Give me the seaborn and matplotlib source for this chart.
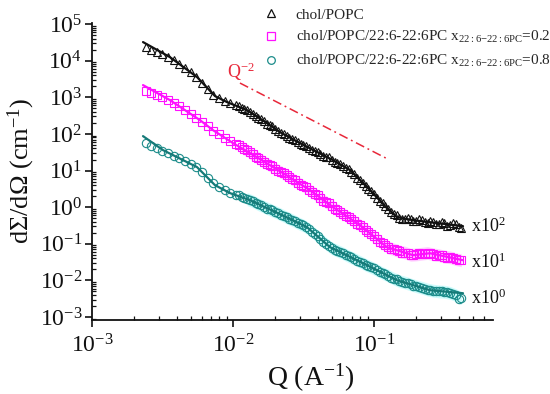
import matplotlib
matplotlib.use("Agg")
import numpy as np
import pandas as pd
import seaborn as sns
import matplotlib.pyplot as plt
from matplotlib.lines import Line2D
from matplotlib.ticker import LogLocator, LogFormatterMathtext, NullFormatter

# ---------------- data ----------------
Q_data = [0.00240, 0.00263, 0.00288, 0.00316, 0.00347, 0.00380, 0.00417, 0.00457, 0.00501, 0.00550,
          0.00603, 0.00661, 0.00724, 0.00794, 0.00871, 0.00955, 0.0105, 0.0115, 0.0126, 0.0138,
          0.0151, 0.0166, 0.0182, 0.0200, 0.0219, 0.0240, 0.0263, 0.0288, 0.0316, 0.0347,
          0.0380, 0.0417, 0.0457, 0.0501, 0.0550, 0.0603, 0.0661, 0.0724, 0.0794, 0.0871,
          0.0955, 0.105, 0.115, 0.126, 0.138, 0.151, 0.166, 0.182, 0.200, 0.219,
          0.240, 0.263, 0.288, 0.316, 0.347, 0.380, 0.417]

I_popc = [2.29e4, 2.0e4, 1.78e4, 1.51e4, 1.29e4, 1.05e4, 8.1e3, 6.3e3, 4.8e3, 3.6e3,
          2.5e3, 1.7e3, 1.17e3, 933, 794, 692, 603, 513, 447, 355,
          275, 224, 174, 138, 107, 89, 72, 60, 50, 42,
          35, 29, 24, 20, 16.2, 13.2, 10.7, 7.8, 5.5, 3.8,
          2.7, 1.82, 1.26, 0.87, 0.65, 0.50, 0.48, 0.47, 0.42, 0.44,
          0.38, 0.40, 0.355, 0.363, 0.316, 0.339, 0.263]

I_x02 = [1.51e3, 1.32e3, 1.15e3, 1.0e3, 851, 708, 575, 447, 355, 275,
         214, 162, 120, 98, 79, 65, 52, 44, 35.5, 27.5,
         21.9, 17.4, 14.1, 11.2, 9.1, 7.4, 5.9, 4.7, 3.8, 3.0,
         2.34, 1.78, 1.38, 1.07, 0.83, 0.66, 0.525, 0.41, 0.324, 0.245,
         0.182, 0.135, 0.102, 0.0794, 0.0708, 0.0617, 0.0575, 0.0501, 0.0513, 0.0537,
         0.0562, 0.0513, 0.0490, 0.0447, 0.0427, 0.0380, 0.0355]

I_x08 = [55, 47.9, 40.7, 33.9, 29.5, 25.1, 21.4, 18.2, 15.1, 12.6,
         9.1, 6.3, 4.47, 3.55, 2.95, 2.45, 2.14, 1.91, 1.66, 1.45,
         1.20, 1.02, 0.87, 0.74, 0.63, 0.525, 0.447, 0.372, 0.316, 0.251,
         0.186, 0.138, 0.100, 0.0759, 0.0646, 0.0550, 0.0457, 0.0389, 0.0324, 0.0269,
         0.0229, 0.0191, 0.0158, 0.0135, 0.0112, 0.00955, 0.00871, 0.00776, 0.00692, 0.00631,
         0.00562, 0.00525, 0.00501, 0.00490, 0.00457, 0.00398, 0.00331]

# second (overlapping) set of high-Q points
Q_data2 = [0.01096, 0.01202, 0.01318, 0.01445, 0.01585, 0.01738, 0.01905, 0.02089, 0.02291, 0.02512,
           0.02754, 0.03020, 0.03311, 0.03631, 0.03981, 0.04365, 0.04786, 0.05248, 0.05754, 0.06310,
           0.06918, 0.07586, 0.08318, 0.09120, 0.1000, 0.1096, 0.1202, 0.1318, 0.1445, 0.1585,
           0.1738, 0.1905, 0.2089, 0.2291, 0.2512, 0.2754, 0.3020, 0.3311, 0.3631, 0.3981]

I2_popc = [575, 468, 407, 302, 257, 191, 162, 117, 102, 77.6,
           69.2, 52.5, 46.8, 36.3, 33.1, 25.1, 22.9, 17.4, 15.1, 11.5,
           9.33, 6.31, 4.68, 3.09, 2.29, 1.48, 1.10, 0.724, 0.603, 0.468,
           0.513, 0.427, 0.468, 0.389, 0.427, 0.347, 0.389, 0.302, 0.363, 0.282]

I2_x02 = [49.0, 38.0, 32.4, 24.0, 20.0, 15.1, 12.9, 9.77, 8.51, 6.46,
          5.37, 4.07, 3.47, 2.57, 2.09, 1.51, 1.26, 0.912, 0.759, 0.575,
          0.479, 0.355, 0.288, 0.204, 0.162, 0.115, 0.0933, 0.0724, 0.0676, 0.0575,
          0.0562, 0.0490, 0.0550, 0.0525, 0.0562, 0.0479, 0.0490, 0.0417, 0.0417, 0.0355]

I2_x08 = [2.09, 1.74, 1.58, 1.29, 1.12, 0.912, 0.813, 0.676, 0.589, 0.479,
          0.417, 0.339, 0.288, 0.214, 0.162, 0.115, 0.0891, 0.0692, 0.0603, 0.0490,
          0.0427, 0.0347, 0.0302, 0.0245, 0.0214, 0.0170, 0.0148, 0.0120, 0.0107, 0.00891,
          0.00832, 0.00724, 0.00676, 0.00589, 0.00550, 0.00501, 0.00513, 0.00468, 0.00437, 0.00302]

Q_fit_popc = [0.00230, 0.00357, 0.00556, 0.00745, 0.00906, 0.01256, 0.01742, 0.02153,
              0.02985, 0.0512, 0.0676, 0.0938, 0.1236, 0.1455, 0.189, 0.428]
I_fit_popc = [3.22e4, 1.25e4, 3.56e3, 1.08e3, 740, 447, 197, 112,
              56.1, 19.2, 10.3, 2.91, 0.94, 0.533, 0.442, 0.303]

Q_fit_x02 = [0.00230, 0.00357, 0.00583, 0.00721, 0.0100, 0.01321, 0.02265, 0.03516,
             0.0512, 0.0796, 0.1236, 0.189, 0.2495, 0.428]
I_fit_x02 = [2153, 838, 238, 127, 56.1, 29.9, 8.49, 2.91,
             1.0, 0.322, 0.0807, 0.0489, 0.0553, 0.0356]

Q_fit_x08 = [0.00230, 0.00319, 0.00556, 0.00745, 0.00953, 0.01321, 0.02153, 0.0335,
             0.0488, 0.0836, 0.1455, 0.2495, 0.428]
I_fit_x08 = [87.1, 36.1, 12.4, 3.99, 2.42, 1.55, 0.644, 0.284,
             0.0807, 0.0295, 0.0101, 0.0054, 0.00447]

Q_ref = [0.0112, 0.124]
I_ref = [2450, 21]

labels = ["chol/POPC",
          r"chol/POPC/22:6-22:6PC x$_{\mathregular{22{:}6{-}22{:}6PC}}$=0.2",
          r"chol/POPC/22:6-22:6PC x$_{\mathregular{22{:}6{-}22{:}6PC}}$=0.8"]
scale_labels = [r"x10$^{2}$", r"x10$^{1}$", r"x10$^{0}$"]
scale_y = [0.30, 0.0316, 0.0032]

# ---------------- style ----------------
sns.set_theme(style="ticks")
plt.rcParams["font.family"] = ["Liberation Serif", "DejaVu Serif"]
plt.rcParams["mathtext.fontset"] = "custom"
plt.rcParams["mathtext.rm"] = "Liberation Serif"
plt.rcParams["mathtext.it"] = "Liberation Serif:italic"
plt.rcParams["mathtext.bf"] = "Liberation Serif:bold"

c_black = "#111111"
c_mag = "#ff10ff"
c_teal = "#1b8c8a"
c_teal_line = "#167a78"

fig = plt.figure(figsize=(5.5, 3.94), dpi=100)
ax = fig.add_axes([0.1673, 0.1878, 0.729, 0.755])
ax.set_xscale("log")
ax.set_yscale("log")

df_pc = pd.DataFrame({"Q": Q_data + Q_data2, "I": I_popc + I2_popc})
df_02 = pd.DataFrame({"Q": Q_data + Q_data2, "I": I_x02 + I2_x02})
df_08 = pd.DataFrame({"Q": Q_data + Q_data2, "I": I_x08 + I2_x08})

# error halos (light bands around the data)
h02 = pd.DataFrame({"Q": Q_data, "I": I_x02})
h08 = pd.DataFrame({"Q": Q_data, "I": I_x08})
m02 = h02["Q"] >= 0.011
ax.fill_between(h02["Q"][m02], h02["I"][m02] / 1.5, h02["I"][m02] * 1.5,
                color="#ffd2ff", lw=0, zorder=1)
m08 = h08["Q"] >= 0.012
ax.fill_between(h08["Q"][m08], h08["I"][m08] / 1.5, h08["I"][m08] * 1.5,
                color="#cdfcfc", lw=0, zorder=1)

mk = dict(estimator=None, sort=False, linestyle="none", markersize=6,
          markerfacecolor="none", markeredgewidth=0.8, ax=ax, zorder=3)
sns.lineplot(data=df_pc, x="Q", y="I", marker="^", color=c_black,
             markeredgecolor=c_black, **mk)
sns.lineplot(data=df_02, x="Q", y="I", marker="s", color=c_mag,
             markeredgecolor=c_mag, **mk)
sns.lineplot(data=df_08, x="Q", y="I", marker="o", color=c_teal,
             markeredgecolor=c_teal, **mk)

ln = dict(estimator=None, sort=False, lw=1.6, ax=ax, zorder=4)
sns.lineplot(x=Q_fit_popc, y=I_fit_popc, color=c_black, **ln)
sns.lineplot(x=Q_fit_x02, y=I_fit_x02, color=c_mag, **ln)
sns.lineplot(x=Q_fit_x08, y=I_fit_x08, color=c_teal_line, **ln)

sns.lineplot(x=Q_ref, y=I_ref, color="#e8283a", lw=1.1, ax=ax, zorder=2,
             estimator=None, sort=False, linestyle=(0, (6, 2.5, 1.2, 2.5)))
ax.text(0.0091, 4.9e3, r"Q$^{-2}$", color="#e8283a", fontsize=13,
        ha="left", va="center")

for lab, yv in zip(scale_labels, scale_y):
    ax.text(0.49, yv, lab, fontsize=13, ha="left", va="center", color="#111111")

ax.set_xlim(1e-3, 0.698)
ax.set_ylim(8.3e-4, 1.1e5)

ax.xaxis.set_major_locator(LogLocator(base=10, numticks=10))
ax.xaxis.set_minor_locator(LogLocator(base=10, subs=np.arange(2, 10), numticks=20))
ax.yaxis.set_major_locator(LogLocator(base=10, numticks=20))
ax.yaxis.set_minor_locator(LogLocator(base=10, subs=np.arange(2, 10), numticks=40))
ax.xaxis.set_major_formatter(LogFormatterMathtext())
ax.yaxis.set_major_formatter(LogFormatterMathtext())
ax.xaxis.set_minor_formatter(NullFormatter())
ax.yaxis.set_minor_formatter(NullFormatter())

ax.tick_params(axis="both", which="major", direction="out", length=5, width=1.2,
               labelsize=17, colors="#111111")
ax.tick_params(axis="x", which="major", pad=5)
ax.tick_params(axis="y", which="major", pad=2)
ax.tick_params(axis="both", which="minor", direction="in", length=3, width=0.9,
               colors="#111111")
for s in ["top", "right"]:
    ax.spines[s].set_visible(False)
for s in ["left", "bottom"]:
    ax.spines[s].set_linewidth(1.3)
    ax.spines[s].set_color("#111111")

ax.set_xlabel(r"Q (A$^{-1}$)", fontsize=20, color="#111111", labelpad=2)
ax.xaxis.set_label_coords(0.545, -0.14)
ax.set_ylabel(r"d$\Sigma$/d$\Omega$ (cm$^{-1}$)", fontsize=19, color="#111111", labelpad=2)

handles = [Line2D([], [], ls="none", marker="^", mfc="none", mec=c_black, ms=6, mew=0.9),
           Line2D([], [], ls="none", marker="s", mfc="none", mec=c_mag, ms=5.5, mew=0.9),
           Line2D([], [], ls="none", marker="o", mfc="none", mec=c_teal, ms=5.5, mew=0.9)]
fig.legend(handles, labels, loc="upper left", bbox_to_anchor=(262 / 550, 1 - 8 / 394),
           frameon=False, fontsize=11, handlelength=1.2, handletextpad=1.0,
           labelspacing=0.5, borderpad=0, borderaxespad=0)

fig.savefig("out.png", dpi=100)
